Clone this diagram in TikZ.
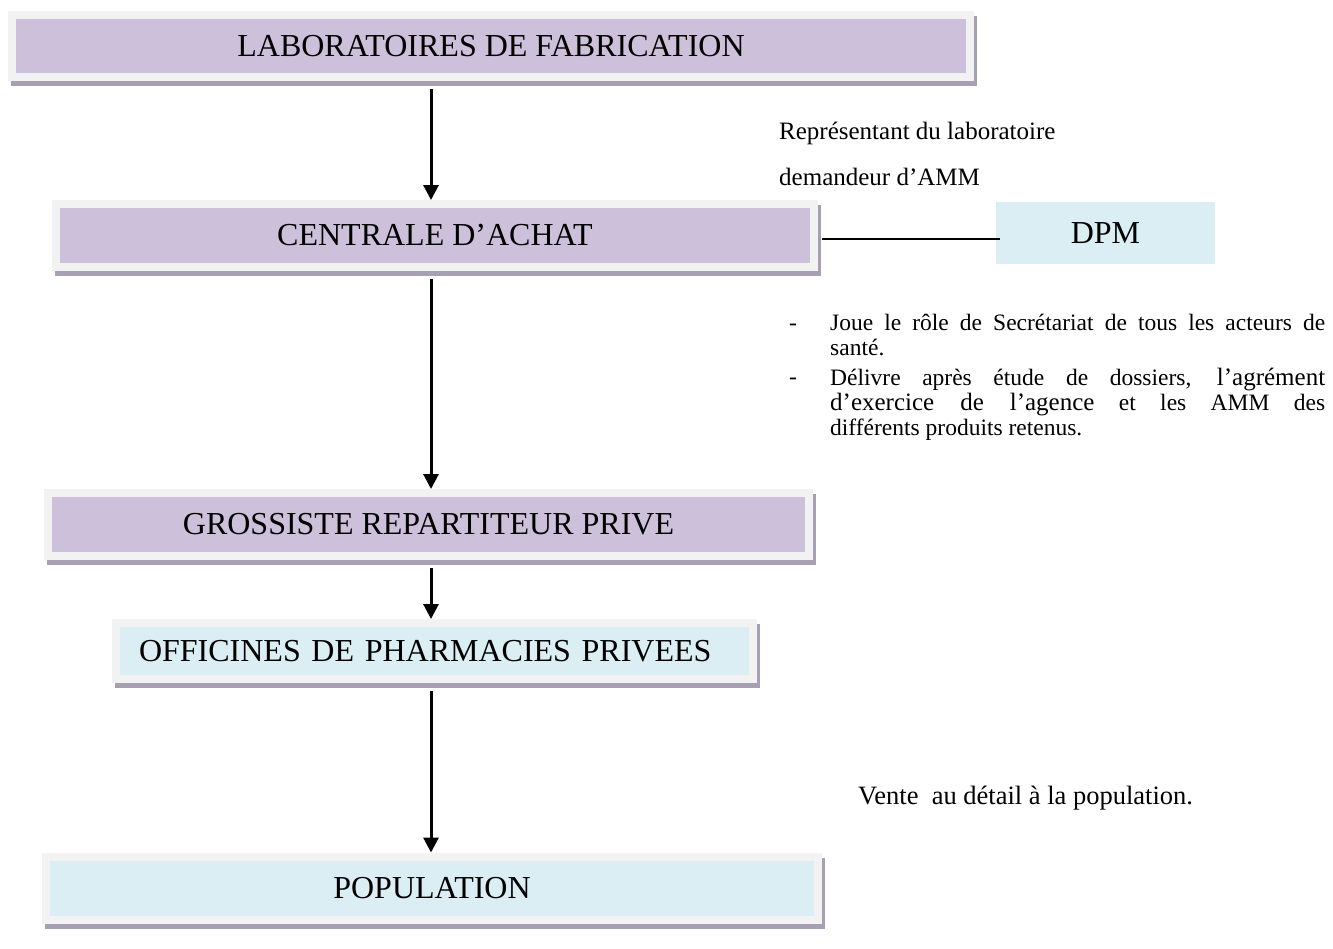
\documentclass[tikz,border=0pt]{standalone}
\usepackage{fontspec}
\setmainfont{Liberation Serif}
\usetikzlibrary{arrows.meta}
\definecolor{purp}{HTML}{CCC0DA}
\definecolor{lblue}{HTML}{DAEEF3}
\definecolor{band}{HTML}{F2F2F2}
\definecolor{shad}{HTML}{A7A0B3}
\begin{document}
\begin{tikzpicture}[x=1pt,y=-1pt,
  framebox/.style={draw=band, line width=8pt, inner sep=0pt, fill=#1,
    preaction={draw=shad, fill=shad, line width=8pt, transform canvas={shift={(3pt,-5pt)}}},
    font=\fontsize{32}{38}\selectfont},
  arr/.style={line width=3pt, -{Triangle[width=15pt,length=15pt]}, shorten <=8pt},
  txt/.style={inner sep=0pt, font=\fontsize{25}{30}\selectfont},
  bodytxt/.style={inner sep=0pt, anchor=north west, text width=495pt, align=justify,
    font=\fontsize{23.5}{25}\selectfont},
  dashtxt/.style={inner sep=0pt, font=\fontsize{23.5}{25}\selectfont}]
\fill[white] (0,0) rectangle (1333,948);
\useasboundingbox (0,0) rectangle (1333,948);

\coordinate (ax) at (431,0);
\coordinate (ly) at (0,239);

\node[framebox=purp, minimum width=958pt, minimum height=62pt] (lab) at (491,46) {LABORATOIRES DE FABRICATION};
\node[framebox=purp, minimum width=758pt, minimum height=63pt] (cen) at (435,235.5) {CENTRALE D’ACHAT};
\node[framebox=purp, minimum width=761pt, minimum height=63pt] (gro) at (428.5,524.5) {GROSSISTE REPARTITEUR PRIVE};
\node[framebox=lblue, minimum width=637pt, minimum height=56pt, text width=591pt, align=left] (off) at (434.5,651) {OFFICINES DE PHARMACIES PRIVEES};
\node[framebox=lblue, minimum width=772pt, minimum height=63pt] (pop) at (432,888) {POPULATION};

\node[fill=lblue, minimum width=219pt, minimum height=62pt, inner sep=0pt, font=\fontsize{32}{38}\selectfont] (dpm) at (1105.5,233) {DPM};

\draw[arr] (lab.south -| ax) -- (cen.north -| ax);
\draw[arr] (cen.south -| ax) -- (gro.north -| ax);
\draw[arr] (gro.south -| ax) -- (off.north -| ax);
\draw[arr] (off.south -| ax) -- (pop.north -| ax);
\draw[line width=2pt] ([xshift=4pt]cen.east |- ly) -- ([xshift=4pt]dpm.west |- ly);

\node[txt, anchor=west] (rep1) at (779,133) {Représentant du laboratoire};
\node[txt, anchor=west] (rep2) at (779,177) {demandeur d’AMM};
\node[txt, anchor=west, font=\fontsize{26.5}{30}\selectfont] (vente) at (858,798) {Vente\ \ au détail à la population.};

\node[dashtxt] (d1) at (793,327) {-};
\node[dashtxt] (d2) at (793,381) {-};
\node[bodytxt] (it1) at (830,314) {\tolerance=10000 Joue le rôle de Secrétariat de tous les acteurs de\linebreak santé.};
\node[bodytxt] (it2) at (830,368) {\tolerance=10000 Délivre après étude de dossiers, {\fontsize{25}{25}\selectfont l’agrément}\linebreak {\fontsize{25}{25}\selectfont d’exercice de l’agence} et les AMM des\linebreak différents produits retenus.};
\end{tikzpicture}
\end{document}
